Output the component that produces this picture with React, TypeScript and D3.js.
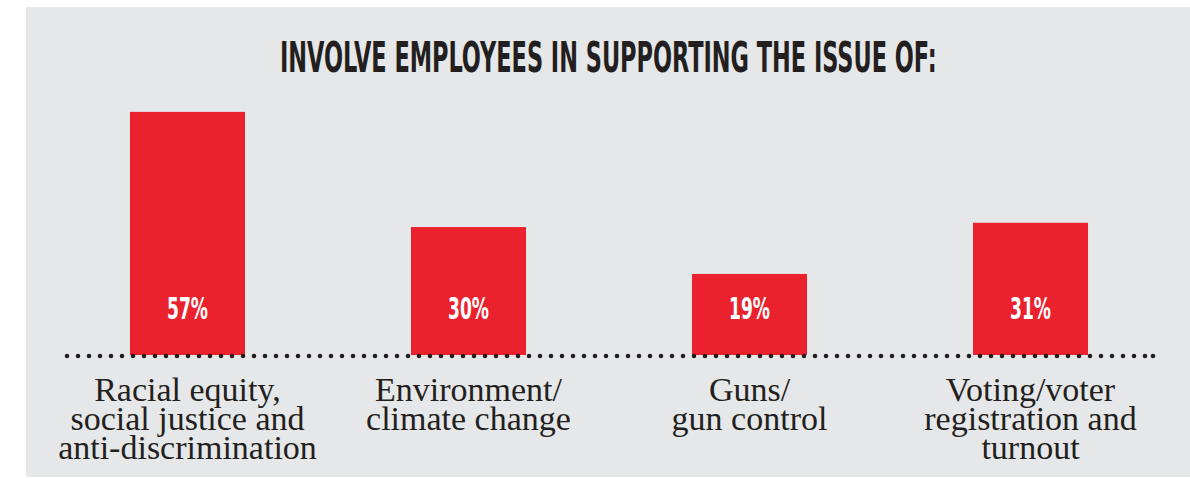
import React, { useLayoutEffect, useRef, useState } from "react";
import * as d3 from "d3";

const categories: string[][] = [
  ["Racial equity,", "social justice and", "anti-discrimination"],
  ["Environment/", "climate change"],
  ["Guns/", "gun control"],
  ["Voting/voter", "registration and", "turnout"],
];
const values: number[] = [57, 30, 19, 31];
const valueLabels: string[] = ["57%", "30%", "19%", "31%"];
const title = "INVOLVE EMPLOYEES IN SUPPORTING THE ISSUE OF:";

const W = 1190;
const H = 478;
const BASE = 355;
const RED = "#EC212E";
const BG = "#E6E7E8";
const INK = "#231F20";
const condensed = "'Liberation Sans Narrow', 'DejaVu Sans Condensed', 'Arial Narrow', sans-serif";
const serif = "'Liberation Serif', 'DejaVu Serif', serif";

export default function App() {
  const titleRef = useRef<SVGTextElement>(null);
  const labelRef = useRef<SVGTextElement>(null);
  const [titleScale, setTitleScale] = useState(0.65);
  const [labelScale, setLabelScale] = useState(0.85);

  useLayoutEffect(() => {
    if (titleRef.current) {
      const w = titleRef.current.getComputedTextLength();
      if (w > 0) setTitleScale(657 / w);
    }
    if (labelRef.current) {
      const w = labelRef.current.getComputedTextLength();
      if (w > 0) setLabelScale(41 / w);
    }
  }, []);

  const keys = categories.map((_, i) => String(i));
  const x = d3
    .scaleBand<string>()
    .domain(keys)
    .range([47, 1171])
    .paddingInner(0.5907)
    .paddingOuter(0.2953);
  const y = d3.scaleLinear().domain([0, 60]).range([BASE, BASE - 60 * 4.265]);

  return (
    <svg width={W} height={H} style={{ position: "absolute", left: 0, top: 0 }}>
      <rect x={26} y={7} width={W - 26} height={470} fill={BG} />
      <g transform={`translate(280,72) scale(${titleScale},1)`}>
        <text ref={titleRef} x={0} y={0} fontFamily={condensed} fontWeight="bold" fontSize={43} fill={INK}>
          {title}
        </text>
      </g>
      {values.map((v, i) => {
        const bx = x(String(i)) as number;
        const bw = x.bandwidth();
        return (
          <g key={i}>
            <rect x={bx} y={y(v)} width={bw} height={BASE - y(v)} fill={RED} />
            <g transform={`translate(${bx + bw / 2},319) scale(${labelScale},1)`}>
              <text
                ref={i === 0 ? labelRef : undefined}
                x={0}
                y={0}
                textAnchor="middle"
                fontFamily={condensed}
                fontWeight="bold"
                fontSize={30}
                fill="#FFFFFF"
              >
                {valueLabels[i]}
              </text>
            </g>
          </g>
        );
      })}
      <line
        x1={67}
        x2={1153}
        y1={356}
        y2={356}
        stroke={INK}
        strokeWidth={4.6}
        strokeLinecap="round"
        strokeDasharray="0 11"
      />
      <circle cx={1153} cy={356} r={2.3} fill={INK} />
      {categories.map((lines, i) => {
        const cx = (x(String(i)) as number) + x.bandwidth() / 2;
        return (
          <text key={i} x={cx} y={401} textAnchor="middle" fontFamily={serif} fontSize={34} fill={INK}>
            {lines.map((l, j) => (
              <tspan key={j} x={cx} dy={j === 0 ? 0 : 29}>
                {l}
              </tspan>
            ))}
          </text>
        );
      })}
    </svg>
  );
}
